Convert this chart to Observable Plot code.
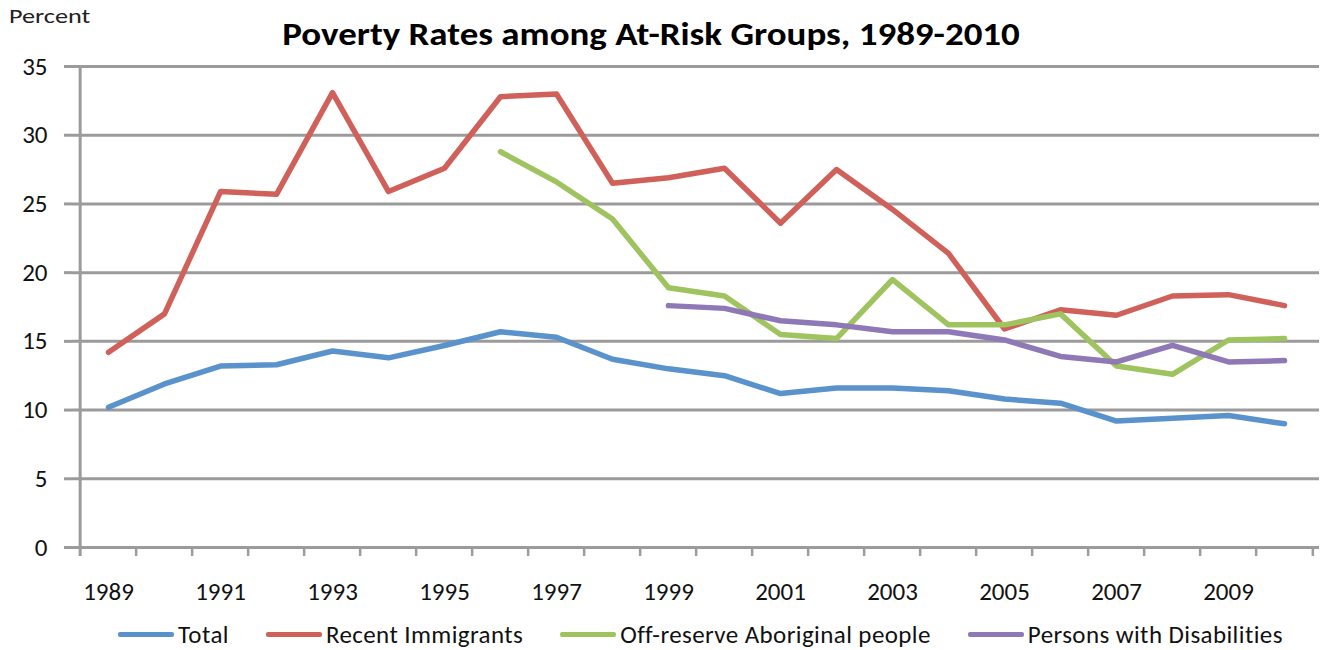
<!DOCTYPE html>
<html>
<head>
<meta charset="utf-8">
<script src="https://cdn.jsdelivr.net/npm/d3@7"></script>
<script src="https://cdn.jsdelivr.net/npm/@observablehq/plot@0.6"></script>
<style>
  html, body { margin: 0; padding: 0; background: #fff; }
  body { font-family: Carlito, Lato, "Open Sans", sans-serif; color: #111; }
  #wrap { position: relative; width: 1322px; height: 650px; overflow: hidden; }
  #chart { position: absolute; left: 0; top: 0; }
  #ylab { position: absolute; left: 9px; top: 3px; font-size: 21px; color: #222; transform: scaleX(1.25); transform-origin: left center; }
  #title { position: absolute; left: 0; width: 1302px; top: 14px; text-align: center; font-size: 33px; font-weight: 700; color: #000; transform: scaleX(1.12); transform-origin: 651px center; }
  #legend { position: absolute; left: 118px; top: 619px; display: flex; align-items: center; font-size: 25px; letter-spacing: 0.4px; color: #111; white-space: nowrap; }
  .item { display: flex; align-items: center; margin-right: 37px; }
  .swatch { width: 56px; height: 5px; border-radius: 2px; margin-right: 4px; }
</style>
</head>
<body>
<div id="wrap">
  <div id="chart"></div>
  <div id="ylab">Percent</div>
  <div id="title">Poverty Rates among At-Risk Groups, 1989-2010</div>
  <div id="legend"></div>
</div>
<script>
// ---- data ----
const years = [1989, 1990, 1991, 1992, 1993, 1994, 1995, 1996, 1997, 1998, 1999,
               2000, 2001, 2002, 2003, 2004, 2005, 2006, 2007, 2008, 2009, 2010];
const total = [10.2, 11.9, 13.2, 13.3, 14.3, 13.8, 14.7, 15.7, 15.3, 13.7, 13.0,
               12.5, 11.2, 11.6, 11.6, 11.4, 10.8, 10.5, 9.2, 9.4, 9.6, 9.0];
const recentImmigrants = [14.2, 17.0, 25.9, 25.7, 33.1, 25.9, 27.6, 32.8, 33.0, 26.5, 26.9,
                          27.6, 23.6, 27.5, 24.6, 21.4, 15.9, 17.3, 16.9, 18.3, 18.4, 17.6];
const offReserveAboriginal = [null, null, null, null, null, null, null, 28.8, 26.6, 23.9, 18.9,
                              18.3, 15.5, 15.2, 19.5, 16.2, 16.2, 17.0, 13.2, 12.6, 15.1, 15.2];
const disabilities = [null, null, null, null, null, null, null, null, null, null, 17.6,
                      17.4, 16.5, 16.2, 15.7, 15.7, 15.1, 13.9, 13.5, 14.7, 13.5, 13.6];
const seriesNames = ["Total", "Recent Immigrants", "Off-reserve Aboriginal people", "Persons with Disabilities"];
const seriesColors = ["#5A92CC", "#D0615A", "#9FC35F", "#8E78B5"];
const yTicks = [0, 5, 10, 15, 20, 25, 30, 35];
const xTickLabels = [1989, 1991, 1993, 1995, 1997, 1999, 2001, 2003, 2005, 2007, 2009];

// ---- long table built from the arrays ----
const seriesValues = [total, recentImmigrants, offReserveAboriginal, disabilities];
const rows = [];
seriesNames.forEach((name, s) => {
  years.forEach((yr, i) => {
    const v = seriesValues[s][i];
    if (v != null) rows.push({series: name, year: yr, value: v});
  });
});

const W = 1322, H = 610, ML = 72, MR = 3, MT = 66, MB = 63;
const step = (W - ML - MR) / years.length;
const grey = "#9b9b9b";

const chart = Plot.plot({
  width: W,
  height: H,
  marginLeft: ML,
  marginRight: MR,
  marginTop: MT,
  marginBottom: MB,
  style: {fontFamily: "Carlito, Lato, 'Open Sans', sans-serif", background: "white", overflow: "visible"},
  x: {type: "point", domain: years, padding: 0.5},
  y: {domain: [0, 35]},
  color: {domain: seriesNames, range: seriesColors},
  marks: [
    // horizontal gridlines
    Plot.ruleY(yTicks, {stroke: grey, strokeWidth: 3}),
    // vertical axis line (left boundary)
    Plot.ruleX([years[0]], {dx: -step / 2, y1: 35, y2: -0.65, stroke: grey, strokeWidth: 3}),
    // category boundary tick marks below the x axis
    Plot.ruleX(years.slice(1), {dx: -step / 2, y1: 0, y2: -0.65, stroke: grey, strokeWidth: 2.5}),
    Plot.ruleX([years[years.length - 1]], {dx: step / 2, y1: 0, y2: -0.65, stroke: grey, strokeWidth: 2.5}),
    Plot.axisY({ticks: yTicks, tickSize: 8, tickPadding: 17, stroke: grey, strokeWidth: 3,
                fontSize: 25, fill: "#111", label: null}),
    Plot.axisX({ticks: xTickLabels, tickFormat: d => String(d), tickSize: 0, tickPadding: 35,
                fontSize: 25, fill: "#111", label: null}),
    Plot.line(rows, {x: "year", y: "value", z: "series", stroke: "series",
                     strokeWidth: 5.5, strokeLinecap: "round", strokeLinejoin: "round"})
  ]
});
document.getElementById("chart").appendChild(chart);

// ---- legend ----
const legend = document.getElementById("legend");
seriesNames.forEach((name, i) => {
  const item = document.createElement("div");
  item.className = "item";
  const sw = document.createElement("div");
  sw.className = "swatch";
  sw.style.background = seriesColors[i];
  const lab = document.createElement("span");
  lab.textContent = name;
  item.appendChild(sw);
  item.appendChild(lab);
  legend.appendChild(item);
});
</script>
</body>
</html>
